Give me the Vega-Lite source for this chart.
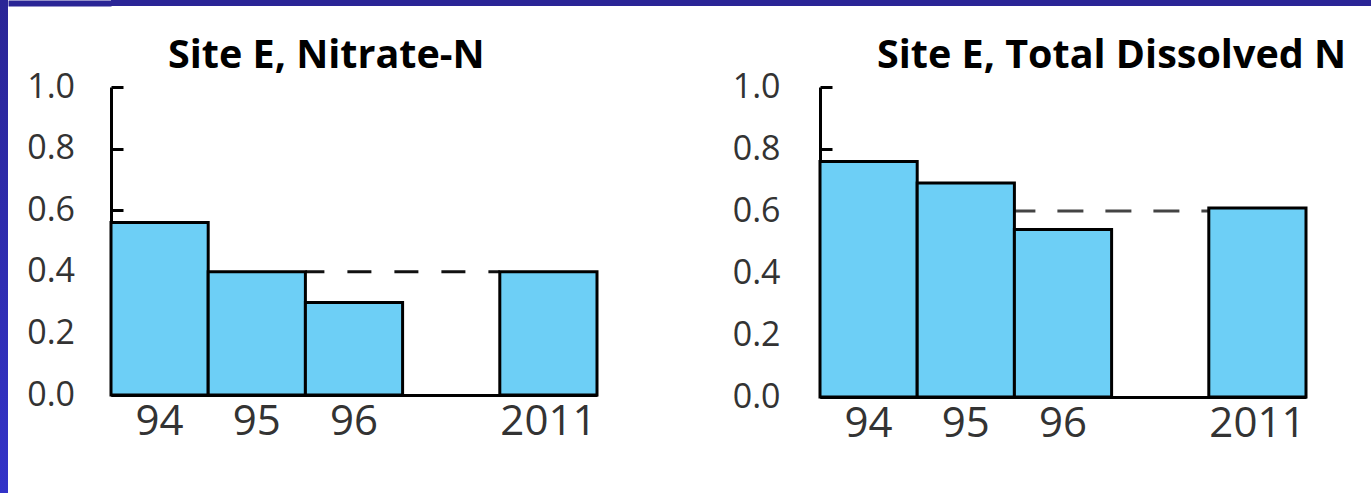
{
  "$schema": "https://vega.github.io/schema/vega-lite/v6.json",
  "padding": 0,
  "background": "#ffffff",
  "config": {"view": {"stroke": null}, "font": "Open Sans"},
  "spacing": -3,
  "hconcat": [
    {
      "width": 8, "height": 493,
      "data": {"values": []},
      "mark": "point",
      "view": {"stroke": null, "fill": {"gradient": "linear", "x1": 0, "y1": 0, "x2": 0, "y2": 1, "stops": [{"offset": 0, "color": "#2a2596"}, {"offset": 1, "color": "#3333c8"}]}}
    },
    {
      "spacing": 29,
      "vconcat": [
        {
          "width": 1261, "height": 6,
          "data": {"values": [{"v": 0.5}]},
          "mark": {"type": "point", "opacity": 0},
          "view": {"stroke": null, "fill": "#2a2596"},
          "encoding": {
            "y": {"field": "v", "type": "quantitative", "scale": {"domain": [0, 1], "nice": false},
              "axis": {"title": null, "values": [0.5], "labels": false, "domain": false, "grid": false, "tickSize": 103, "tickWidth": 6, "tickColor": "#2a2596", "tickCap": "butt", "minExtent": 103, "maxExtent": 103}}
          }
        },
        {
          "spacing": 131,
          "hconcat": [
            {
              "width": 486, "height": 308,
              "title": {"text": "Site E, Nitrate-N", "anchor": "start", "frame": "group", "dx": 57, "offset": -37, "baseline": "alphabetic", "fontSize": 39.5, "fontWeight": "bold", "color": "#000000", "font": "Open Sans"},
              "layer": [
                {
                  "data": {"values": [{"from": "96", "to": "2011", "v": 0.4}]},
                  "mark": {"type": "rule", "strokeDash": [24, 23], "strokeDashOffset": 5, "strokeWidth": 3, "color": "#111111"},
                  "encoding": {
                    "x": {"field": "from", "type": "ordinal", "bandPosition": 0},
                    "x2": {"field": "to", "bandPosition": 0},
                    "y": {"field": "v", "type": "quantitative"}
                  }
                },
                {
                  "data": {"values": [
                    {"year": "94", "value": 0.56},
                    {"year": "95", "value": 0.40},
                    {"year": "96", "value": 0.30},
                    {"year": "2011", "value": 0.40}
                  ]},
                  "mark": {"type": "bar", "fill": "#6dcff6", "stroke": "#000000", "strokeWidth": 3},
                  "encoding": {
                    "x": {"field": "year", "type": "ordinal", "sort": null,
                      "scale": {"domain": ["94", "95", "96", "gap", "2011"], "paddingInner": 0, "paddingOuter": 0},
                      "axis": {"title": null, "bandPosition": 0.5, "labelExpr": "datum.value == 'gap' ? '' : datum.label", "labelAngle": 0, "labelAlign": "center", "ticks": false, "domainColor": "#000000", "domainWidth": 3, "labelFontSize": 42, "labelColor": "#333333", "labelPadding": 26}},
                    "y": {"field": "value", "type": "quantitative",
                      "scale": {"domain": [0, 1], "nice": false},
                      "axis": {"title": null, "values": [0, 0.2, 0.4, 0.6, 0.8, 1], "format": ".1f", "grid": false, "tickSize": -12, "tickWidth": 3, "tickColor": "#000000", "domainColor": "#000000", "domainWidth": 3, "labelPadding": 48.5, "labelFontSize": 34, "labelColor": "#333333", "minExtent": 103}}
                  }
                }
              ]
            },
            {
              "width": 486, "height": 310,
              "title": {"text": "Site E, Total Dissolved N", "anchor": "start", "frame": "group", "dx": 57, "offset": -37, "baseline": "alphabetic", "fontSize": 39.5, "fontWeight": "bold", "color": "#000000", "font": "Open Sans"},
              "layer": [
                {
                  "data": {"values": [{"from": "96", "to": "2011", "v": 0.6}]},
                  "mark": {"type": "rule", "strokeDash": [26, 22], "strokeDashOffset": 5, "strokeWidth": 3, "color": "#444444"},
                  "encoding": {
                    "x": {"field": "from", "type": "ordinal", "bandPosition": 0},
                    "x2": {"field": "to", "bandPosition": 0},
                    "y": {"field": "v", "type": "quantitative"}
                  }
                },
                {
                  "data": {"values": [
                    {"year": "94", "value": 0.76},
                    {"year": "95", "value": 0.69},
                    {"year": "96", "value": 0.54},
                    {"year": "2011", "value": 0.61}
                  ]},
                  "mark": {"type": "bar", "fill": "#6dcff6", "stroke": "#000000", "strokeWidth": 3},
                  "encoding": {
                    "x": {"field": "year", "type": "ordinal", "sort": null,
                      "scale": {"domain": ["94", "95", "96", "gap", "2011"], "paddingInner": 0, "paddingOuter": 0},
                      "axis": {"title": null, "bandPosition": 0.5, "labelExpr": "datum.value == 'gap' ? '' : datum.label", "labelAngle": 0, "labelAlign": "center", "ticks": false, "domainColor": "#000000", "domainWidth": 3, "labelFontSize": 42, "labelColor": "#333333", "labelPadding": 26}},
                    "y": {"field": "value", "type": "quantitative",
                      "scale": {"domain": [0, 1], "nice": false},
                      "axis": {"title": null, "values": [0, 0.2, 0.4, 0.6, 0.8, 1], "format": ".1f", "grid": false, "tickSize": -12, "tickWidth": 3, "tickColor": "#000000", "domainColor": "#000000", "domainWidth": 3, "labelPadding": 52, "labelFontSize": 34, "labelColor": "#333333", "minExtent": 90}}
                  }
                }
              ]
            }
          ]
        }
      ]
    }
  ]
}
